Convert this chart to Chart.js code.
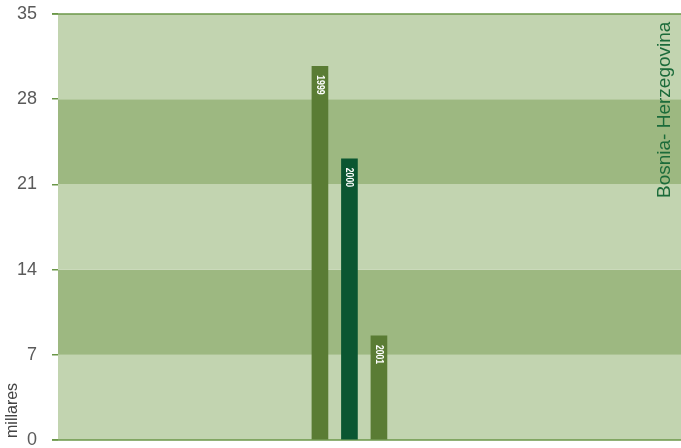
<!DOCTYPE html>
<html>
<head>
<meta charset="utf-8">
<script src="https://cdn.jsdelivr.net/npm/chart.js@4"></script>
<style>
  html, body { margin: 0; padding: 0; background: #fff; }
  #wrap { width: 681px; height: 448px; }
</style>
</head>
<body>
<div id="wrap"><canvas id="myChart" width="681" height="448"></canvas></div>
<script>
// datos del grafico
var anios = ['1999', '2000', '2001'];
var posiciones = [0, 1, 2];
var valores = [30.7, 23.1, 8.55];
var coloresBarra = ['#5a7c34', '#0b5631', '#5a7c34'];
var ticksY = [0, 7, 14, 21, 28, 35];
var pais = 'Bosnia- Herzegovina';
var unidad = 'millares';

// franjas de fondo alternadas
var bandas = {
    id: 'bandas',
    beforeDatasetsDraw: function (chart) {
        var ctx = chart.ctx;
        var area = chart.chartArea;
        var y = chart.scales.y;
        ctx.save();
        for (var i = 0; i < ticksY.length - 1; i++) {
            var y0 = y.getPixelForValue(ticksY[i]);
            var y1 = y.getPixelForValue(ticksY[i + 1]);
            ctx.fillStyle = (i % 2 == 0) ? '#c2d4b0' : '#9db881';
            ctx.fillRect(area.left, y1, area.right - area.left, y0 - y1);
        }
        // lineas superior e inferior
        ctx.strokeStyle = '#6b9748';
        ctx.lineWidth = 1.5;
        [0, 35].forEach(function (v) {
            var py = y.getPixelForValue(v);
            ctx.beginPath();
            ctx.moveTo(area.left - 6, py);
            ctx.lineTo(area.right, py);
            ctx.stroke();
        });
        ctx.restore();
    }
};

// textos: años dentro de las barras, pais y unidad
var textos = {
    id: 'textos',
    afterDatasetsDraw: function (chart) {
        var ctx = chart.ctx;
        var meta = chart.getDatasetMeta(0);
        ctx.save();
        ctx.fillStyle = '#ffffff';
        ctx.font = 'bold 11px "Liberation Sans", Arial, sans-serif';
        ctx.textAlign = 'left';
        ctx.textBaseline = 'middle';
        meta.data.forEach(function (bar, i) {
            ctx.save();
            ctx.translate(bar.x, bar.y + 9);
            ctx.rotate(Math.PI / 2);
            ctx.scale(0.78, 1);   // letra estrecha
            ctx.fillText(anios[i], 0, 0);
            ctx.restore();
        });

        ctx.fillStyle = '#1b6b3a';
        ctx.font = '19px "Liberation Sans", Arial, sans-serif';
        ctx.save();
        ctx.translate(665, 198);
        ctx.rotate(-Math.PI / 2);
        ctx.fillText(pais, 0, 0);
        ctx.restore();

        ctx.fillStyle = '#444444';
        ctx.font = '16px "Liberation Sans", Arial, sans-serif';
        ctx.save();
        ctx.translate(13, 438);
        ctx.rotate(-Math.PI / 2);
        ctx.fillText(unidad, 0, 0);
        ctx.restore();
        ctx.restore();
    }
};

var ctx = document.getElementById('myChart').getContext('2d');
var myChart = new Chart(ctx, {
    type: 'bar',
    data: {
        datasets: [{
            data: posiciones.map(function (p, i) { return { x: p, y: valores[i] }; }),
            backgroundColor: coloresBarra,
            borderWidth: 0,
            barThickness: 16
        }]
    },
    options: {
        responsive: false,
        animation: false,
        layout: { padding: { top: 14, right: 0, bottom: 8, left: 0 } },
        plugins: {
            legend: { display: false },
            tooltip: { enabled: false }
        },
        scales: {
            x: {
                type: 'linear',
                display: false,
                offset: false,
                min: -8.88,
                max: 12.24
            },
            y: {
                min: 0,
                max: 35,
                afterFit: function (scale) {
                    scale.width = 58;
                    scale.paddingTop = 0;
                    scale.paddingBottom = 0;
                },
                afterBuildTicks: function (scale) {
                    scale.ticks = ticksY.map(function (v) { return { value: v }; });
                },
                border: { display: false },
                grid: {
                    drawOnChartArea: false,
                    color: '#6b9748',
                    tickLength: 6,
                    lineWidth: 1.5
                },
                ticks: {
                    padding: 15,
                    color: '#5a5a5a',
                    font: { family: '"Liberation Sans", Arial, sans-serif', size: 18 }
                }
            }
        }
    },
    plugins: [bandas, textos]
});
</script>
</body>
</html>
